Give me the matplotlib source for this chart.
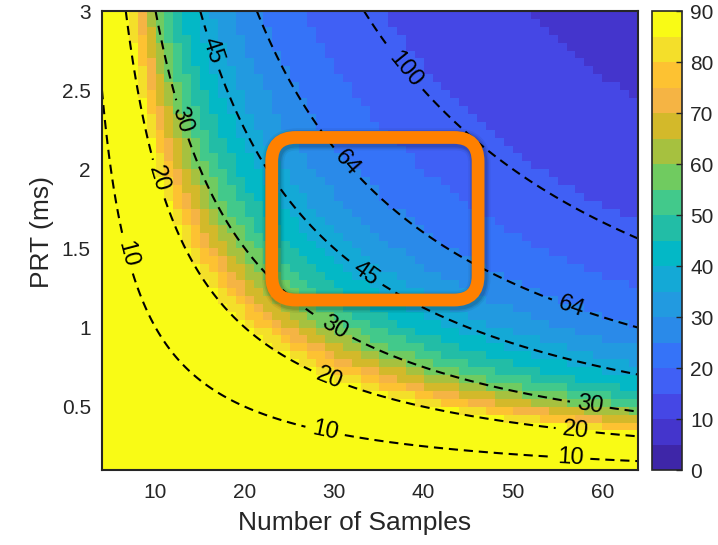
import numpy as np
import matplotlib.pyplot as plt
from matplotlib.colors import ListedColormap
from matplotlib.patches import FancyBboxPatch

plt.rcParams['font.family'] = ['Liberation Sans', 'DejaVu Sans']

# sweep grid
n_samples = np.arange(4, 65)                      # 4 ... 64
prt_ms = np.arange(10, 301, 5) / 100.0            # 0.10 ... 3.00 ms

# dwell time (ms) where the mapped quantity drops into the next 5-unit band
band_edges = [19.5, 21, 22.5, 24, 26, 28, 30.5, 33.5, 37, 41.5, 47, 54, 63, 78, 104, 153]
band_values = [87.5, 82.5, 77.5, 72.5, 67.5, 62.5, 57.5, 52.5, 47.5,
               42.5, 37.5, 32.5, 27.5, 22.5, 17.5, 12.5, 7.5]

contour_levels = [10, 20, 30, 45, 64, 100]

# 18-step parula, 0-5 ... 85-90
parula18 = ListedColormap([
    '#3e26a8', '#4435cc', '#4547e5', '#4060f5', '#3573f8', '#2a8ae9',
    '#229ae0', '#14a9d6', '#03b8c6', '#22bda6', '#42c98b', '#70cb60',
    '#a6c13f', '#d3b92a', '#f5b444', '#fdc232', '#f4df2a', '#f9fb15'])

NN, PP = np.meshgrid(n_samples, prt_ms)
dwell = NN * PP
field = np.array(band_values)[np.digitize(dwell, band_edges)]

fig = plt.figure(figsize=(7.18, 5.45), dpi=100)
ax = fig.add_axes([0.142, 0.1376, 0.7466, 0.8422])

mesh = ax.pcolormesh(n_samples, prt_ms, field[:-1, :-1], cmap=parula18,
                     vmin=0, vmax=90, shading='flat')

# dwell-time contours N*PRT
nf = np.linspace(4, 64, 400)
pf = np.linspace(0.1, 3, 400)
NF, PF = np.meshgrid(nf, pf)
cs = ax.contour(NF, PF, NF * PF, levels=contour_levels, colors='k',
                linewidths=1.5, linestyles=[(0, (4.4, 2.8))])
label_pos = [(6.6, 1.46), (29.0, 0.353), (56.4, 0.164),
             (9.9, 1.93), (29.5, 0.68), (57.0, 0.34),
             (12.7, 2.31), (30.1, 1.0), (58.6, 0.51),
             (16.4, 2.75), (33.4, 1.33),
             (31.8, 2.06), (56.4, 1.12),
             (37.9, 2.63)]
ax.clabel(cs, manual=label_pos, inline=True, fmt='%d', fontsize=17, inline_spacing=7)

# highlighted region
bx0, bx1, by0, by1 = 23.0, 46.1, 1.174, 2.201
asp = (2.9 / 459.0) / (60.0 / 536.0)
for lw, a in [(16, 0.05), (13.5, 0.08), (11.5, 0.10)]:
    ax.add_patch(FancyBboxPatch((bx0 + 0.15, by0 - 0.012), bx1 - bx0, by1 - by0,
                                boxstyle='round,pad=0,rounding_size=2.7',
                                mutation_aspect=asp, fill=False,
                                edgecolor='k', alpha=a, linewidth=lw, zorder=4))
ax.add_patch(FancyBboxPatch((bx0, by0), bx1 - bx0, by1 - by0,
                            boxstyle='round,pad=0,rounding_size=2.7',
                            mutation_aspect=asp, fill=False,
                            edgecolor='#ff8000', linewidth=9.2, zorder=5))

ax.set_xlim(4, 64)
ax.set_ylim(0.1, 3)
ax.set_xticks([10, 20, 30, 40, 50, 60])
ax.set_yticks([0.5, 1, 1.5, 2, 2.5, 3])
ax.set_yticklabels(['0.5', '1', '1.5', '2', '2.5', '3'])
ax.tick_params(length=0, labelsize=15, colors='#262626')
ax.tick_params(axis='x', pad=9)
ax.tick_params(axis='y', pad=8)
ax.set_xlabel('Number of Samples', fontsize=19, color='#262626')
ax.set_ylabel('PRT (ms)', fontsize=19, color='#262626')
ax.xaxis.set_label_coords(0.472, -0.09)
ax.yaxis.set_label_coords(-0.09, 0.518)
for s in ax.spines.values():
    s.set_color('#262626')
    s.set_linewidth(1.5)

cax = fig.add_axes([0.908, 0.1376, 0.0418, 0.8422])
cb = fig.colorbar(mesh, cax=cax, ticks=range(0, 91, 10))
cb.outline.set_edgecolor('#262626')
cb.outline.set_linewidth(1.2)
cax.tick_params(direction='in', length=4, width=1, labelsize=15,
                colors='#262626', pad=6)

fig.savefig('out.png', dpi=100)
